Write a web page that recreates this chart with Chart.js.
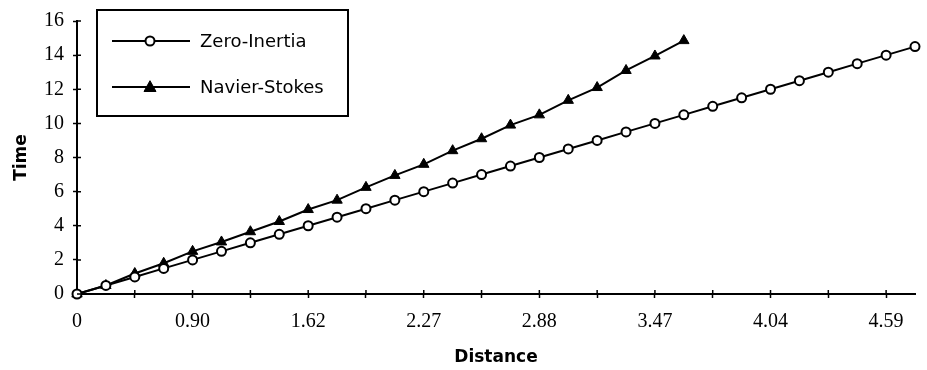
<!DOCTYPE html>
<html>
<head>
<meta charset="utf-8">
<script src="https://cdn.jsdelivr.net/npm/chart.js@4/dist/chart.umd.min.js"></script>
<style>
  html, body { margin: 0; padding: 0; background: #fff; }
  #wrap { width: 927px; height: 370px; }
</style>
</head>
<body>
<div id="wrap"><canvas id="c" width="927" height="370"></canvas></div>
<script>
// ---- data ----
const seriesNames = ['Zero-Inertia', 'Navier-Stokes'];
const zeroInertia = [0, 0.5, 1.0, 1.5, 2.0, 2.5, 3.0, 3.5, 4.0, 4.5, 5.0, 5.5, 6.0, 6.5, 7.0,
                     7.5, 8.0, 8.5, 9.0, 9.5, 10.0, 10.5, 11.0, 11.5, 12.0, 12.5, 13.0, 13.5, 14.0, 14.5];
const navierStokes = [0, 0.5, 1.2, 1.8, 2.5, 3.05, 3.65, 4.25, 4.95, 5.5, 6.25, 6.95, 7.6, 8.4,
                      9.1, 9.9, 10.5, 11.35, 12.1, 13.1, 13.95, 14.85];
// distance labels shown at every 4th point
const distanceTicks = ['0', '0.90', '1.62', '2.27', '2.88', '3.47', '4.04', '4.59'];
const categories = zeroInertia.map((_, i) => (i % 4 === 0 ? distanceTicks[i / 4] : ''));
const yTicks = [0, 2, 4, 6, 8, 10, 12, 14, 16];

const SANS = '"DejaVu Sans", sans-serif';
const SERIF = '"Liberation Serif", "Times New Roman", serif';

const innerTicks = {
  id: 'innerTicks',
  afterDraw(chart) {
    const ctx = chart.ctx;
    const xs = chart.scales.x, ys = chart.scales.y;
    ctx.save();
    ctx.strokeStyle = '#000';
    ctx.lineWidth = 1.5;
    ctx.beginPath();
    xs.ticks.forEach((t, i) => {
      if (i % 2 !== 0 || i === 0) return;
      const px = xs.getPixelForTick(i);
      ctx.moveTo(px, xs.top);
      ctx.lineTo(px, xs.top - 4);
    });
    ys.ticks.forEach((t, i) => {
      const py = ys.getPixelForTick(i);
      ctx.moveTo(ys.right, py);
      ctx.lineTo(ys.right + 4, py);
    });
    ctx.stroke();
    ctx.restore();
  }
};

const boxLegend = {
  id: 'boxLegend',
  afterDatasetsDraw(chart) {
    const ctx = chart.ctx;
    ctx.save();
    ctx.fillStyle = '#fff';
    ctx.fillRect(97, 10, 251, 106);
    ctx.strokeStyle = '#000';
    ctx.lineWidth = 2;
    ctx.strokeRect(97, 10, 251, 106);
    const rows = [41, 87];
    chart.data.datasets.forEach((ds, k) => {
      const y = rows[k];
      ctx.beginPath();
      ctx.lineWidth = ds.borderWidth;
      ctx.strokeStyle = ds.borderColor;
      ctx.moveTo(112, y);
      ctx.lineTo(190, y);
      ctx.stroke();
      ctx.beginPath();
      if (ds.pointStyle === 'circle') {
        ctx.arc(150, y, ds.pointRadius, 0, Math.PI * 2);
      } else {
        const r = ds.pointRadius;
        ctx.moveTo(150, y - r * 1.05);
        ctx.lineTo(150 + r, y + r * 0.75);
        ctx.lineTo(150 - r, y + r * 0.75);
        ctx.closePath();
      }
      ctx.fillStyle = ds.pointBackgroundColor;
      ctx.fill();
      ctx.lineWidth = ds.pointBorderWidth;
      ctx.strokeStyle = ds.pointBorderColor;
      ctx.stroke();
      ctx.fillStyle = '#000';
      ctx.font = '18px ' + SANS;
      ctx.textBaseline = 'middle';
      ctx.textAlign = 'left';
      ctx.fillText(ds.label, 200, y + 1);
    });
    ctx.restore();
  }
};

new Chart(document.getElementById('c'), {
  type: 'line',
  data: {
    labels: categories,
    datasets: [
      {
        label: seriesNames[0],
        data: zeroInertia,
        borderColor: '#000',
        borderWidth: 2,
        pointStyle: 'circle',
        pointRadius: 4.5,
        pointBackgroundColor: '#fff',
        pointBorderColor: '#000',
        pointBorderWidth: 2,
        tension: 0,
        clip: false
      },
      {
        label: seriesNames[1],
        data: navierStokes,
        borderColor: '#000',
        borderWidth: 2,
        pointStyle: 'triangle',
        pointRadius: 6,
        pointBackgroundColor: '#000',
        pointBorderColor: '#000',
        pointBorderWidth: 1,
        tension: 0,
        clip: false
      }
    ]
  },
  options: {
    responsive: false,
    devicePixelRatio: 1,
    animation: false,
    layout: { padding: { top: 20, right: 8, left: 0, bottom: 0 } },
    plugins: { legend: { display: false }, tooltip: { enabled: false } },
    scales: {
      x: {
        type: 'category',
        offset: false,
        afterFit(s) { s.height = 76; },
        border: { display: true, color: '#000', width: 2 },
        grid: {
          drawOnChartArea: false,
          drawTicks: true,
          tickLength: 4,
          tickWidth: 1.5,
          tickColor: (c) => (c.index % 2 === 0 ? '#000' : 'rgba(0,0,0,0)')
        },
        ticks: {
          autoSkip: false,
          maxRotation: 0,
          padding: 12,
          color: '#000',
          font: { family: SERIF, size: 20 },
          callback(v, i) { return categories[i]; }
        },
        title: {
          display: true,
          text: 'Distance',
          color: '#000',
          font: { family: SANS, size: 17, weight: 'bold' },
          padding: { top: 0, bottom: 2 }
        }
      },
      y: {
        min: 0,
        max: 16,
        afterFit(s) { s.width = 77; },
        afterBuildTicks(s) { s.ticks = yTicks.map(v => ({ value: v })); },
        border: { display: true, color: '#000', width: 2 },
        grid: {
          drawOnChartArea: false,
          drawTicks: true,
          tickLength: 4,
          tickWidth: 1.5,
          tickColor: '#000'
        },
        ticks: {
          padding: 9,
          color: '#000',
          font: { family: SERIF, size: 20 }
        },
        title: {
          display: true,
          text: 'Time',
          color: '#000',
          font: { family: SANS, size: 17, weight: 'bold' },
          padding: { top: 11, bottom: 0 }
        }
      }
    }
  },
  plugins: [innerTicks, boxLegend]
});
</script>
</body>
</html>
